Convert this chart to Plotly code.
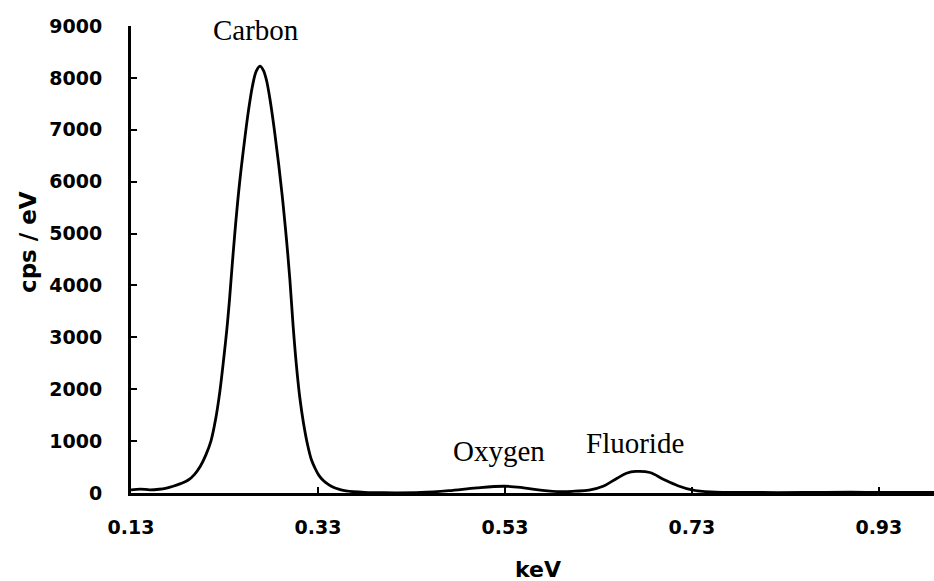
import plotly.graph_objects as go

# Spectrum (keV, cps/eV)
energy_kev = [0.1300, 0.1400, 0.1500, 0.1600, 0.1680, 0.1750, 0.1830, 0.1913, 0.1980, 0.2040,
              0.2100, 0.2155, 0.2205, 0.2250, 0.2290, 0.2325, 0.2355, 0.2385, 0.2420, 0.2460,
              0.2505, 0.2555, 0.2600, 0.2640, 0.2680, 0.2715, 0.2750, 0.2790, 0.2835, 0.2880,
              0.2925, 0.2965, 0.3000, 0.3035, 0.3070, 0.3105, 0.3145, 0.3190, 0.3230, 0.3268,
              0.3310, 0.3357, 0.3410, 0.3464, 0.3530, 0.3600, 0.3800, 0.4000, 0.4400, 0.4700,
              0.5000, 0.5300, 0.5500, 0.5700, 0.5900, 0.6050, 0.6200, 0.6350, 0.6500, 0.6600,
              0.6700, 0.6850, 0.7000, 0.7150, 0.7300, 0.7500, 0.8000, 0.8500, 0.9000, 0.9500,
              0.9890]
cps_per_ev = [60, 75, 62, 72, 95, 130, 180, 250, 360, 510,
              730, 1000, 1420, 1950, 2560, 3150, 3750, 4450, 5200, 5950,
              6650, 7350, 7850, 8130, 8227, 8150, 7950, 7550, 6980, 6330,
              5600, 4850, 4100, 3200, 2450, 1850, 1350, 920, 640, 480,
              340, 240, 165, 110, 70, 40, 12, 5, 10, 45,
              100, 130, 100, 50, 25, 35, 55, 130, 285, 380,
              415, 395, 260, 140, 60, 20, 10, 10, 15, 10,
              10]

x_tick_vals = [0.13, 0.33, 0.53, 0.73, 0.93]
x_tick_text = ["0.13", "0.33", "0.53", "0.73", "0.93"]
y_tick_vals = [0, 1000, 2000, 3000, 4000, 5000, 6000, 7000, 8000, 9000]

peak_names = ["Carbon", "Oxygen", "Fluoride"]
peak_label_x = [0.2637, 0.5236, 0.669]
peak_label_y = [8920, 806, 965]

SANS = "DejaVu Sans, Open Sans, sans-serif"
SERIF = "Liberation Serif, Times New Roman, serif"

PLOT_L, PLOT_R, PLOT_T, PLOT_B = 131, 934, 26, 493

fig = go.Figure()
fig.add_trace(go.Scatter(
    x=energy_kev, y=cps_per_ev, mode="lines",
    line=dict(color="black", width=2.8, shape="spline", smoothing=1.0),
    showlegend=False, hoverinfo="skip",
))

for name, px, py in zip(peak_names, peak_label_x, peak_label_y):
    fig.add_annotation(x=px, y=py, xref="x", yref="y", text=name, showarrow=False,
                       font=dict(family=SERIF, size=29, color="black"))

# axis titles placed as annotations (paper coords)
fig.add_annotation(x=(28 - PLOT_L) / (PLOT_R - PLOT_L), y=(PLOT_B - 242) / (PLOT_B - PLOT_T),
                   xref="paper", yref="paper", text="<b>cps / eV</b>", showarrow=False,
                   textangle=-90, xanchor="center", yanchor="middle",
                   font=dict(family=SANS, size=23, color="black"))
fig.add_annotation(x=(538 - PLOT_L) / (PLOT_R - PLOT_L), y=(PLOT_B - 569) / (PLOT_B - PLOT_T),
                   xref="paper", yref="paper", text="<b>keV</b>", showarrow=False,
                   xanchor="center", yanchor="middle",
                   font=dict(family=SANS, size=22, color="black"))

fig.update_layout(
    width=934, height=581,
    margin=dict(l=PLOT_L, r=934 - PLOT_R, t=PLOT_T, b=581 - PLOT_B),
    paper_bgcolor="white", plot_bgcolor="white",
    font=dict(family=SANS, color="black"),
    xaxis=dict(
        range=[0.13, 0.989], tickvals=x_tick_vals, ticktext=x_tick_text,
        showgrid=False, zeroline=False, showline=True, linecolor="black", linewidth=3,
        ticks="inside", ticklen=6, tickwidth=2, tickcolor="black",
        tickfont=dict(family=SANS, size=19, color="black", weight="bold"),
        ticklabelstandoff=15,
    ),
    yaxis=dict(
        range=[0, 9000], tickvals=y_tick_vals,
        showgrid=False, zeroline=False, showline=True, linecolor="black", linewidth=3,
        ticks="inside", ticklen=6, tickwidth=2, tickcolor="black",
        tickfont=dict(family=SANS, size=19, color="black", weight="bold"),
        ticklabelstandoff=22,
    ),
)

fig.write_html("out.html", config={"displayModeBar": False},
               post_script="document.body.style.margin='0px';")
